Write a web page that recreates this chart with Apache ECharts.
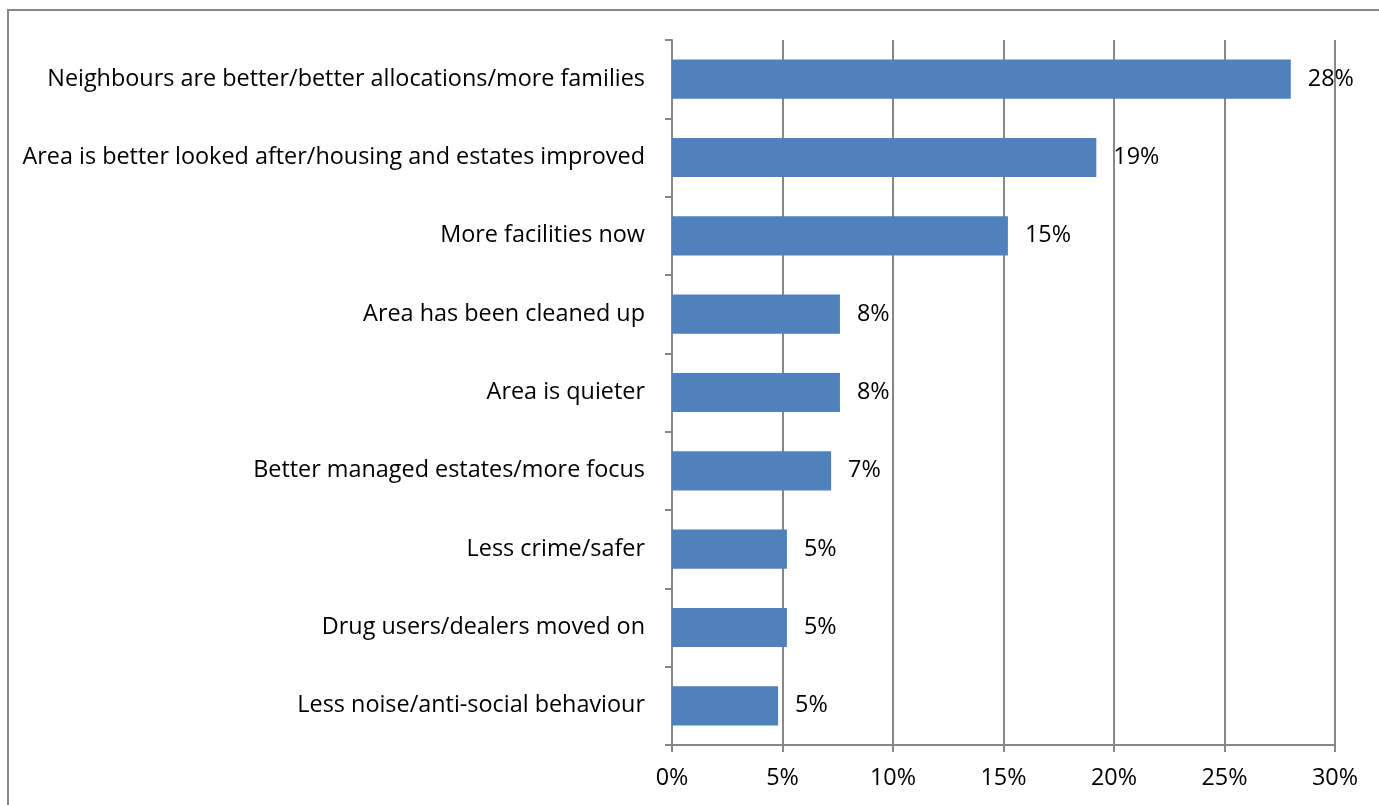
<!DOCTYPE html>
<html>
<head>
<meta charset="utf-8">
<script src="https://cdn.jsdelivr.net/npm/echarts@6/dist/echarts.min.js"></script>
<style>
  html, body { margin: 0; padding: 0; background: #fff; }
  #chart { width: 1379px; height: 805px; }
</style>
</head>
<body>
<div id="chart"></div>
<script>
// Reasons given for the area getting better (share of responses, %)
const categories = [
  'Neighbours are better/better allocations/more families',
  'Area is better looked after/housing and estates improved',
  'More facilities now',
  'Area has been cleaned up',
  'Area is quieter',
  'Better managed estates/more focus',
  'Less crime/safer',
  'Drug users/dealers moved on',
  'Less noise/anti-social behaviour'
];
const shares = [28.0, 19.2, 15.2, 7.6, 7.6, 7.2, 5.2, 5.2, 4.8];
const xTicks = [0, 5, 10, 15, 20, 25, 30];

const FONT = '"Open Sans", "Noto Sans", sans-serif';
const FS = 23.4;
const chart = echarts.init(document.getElementById('chart'), null, { renderer: 'canvas' });

chart.setOption({
  animation: false,
  backgroundColor: '#ffffff',
  graphic: [{
    type: 'rect',
    shape: { x: 8, y: 10, width: 1420, height: 900 },
    style: { fill: 'none', stroke: '#878787', lineWidth: 2 },
    silent: true
  }],
  grid: { left: 672, right: 44, top: 40, bottom: 60, containLabel: false },
  xAxis: {
    type: 'value',
    min: xTicks[0],
    max: xTicks[xTicks.length - 1],
    interval: xTicks[1] - xTicks[0],
    axisLine: { show: true, lineStyle: { color: '#878787', width: 2 } },
    axisTick: { show: true, length: 7, lineStyle: { color: '#878787', width: 2 } },
    splitLine: { show: true, lineStyle: { color: '#878787', width: 2 } },
    axisLabel: {
      color: '#000', fontFamily: FONT, fontSize: FS, margin: 22,
      formatter: v => v + '%'
    }
  },
  yAxis: {
    type: 'category',
    inverse: true,
    data: categories,
    axisLine: { show: true, lineStyle: { color: '#878787', width: 2 } },
    axisTick: { show: true, length: 7, lineStyle: { color: '#878787', width: 2 } },
    axisLabel: {
      color: '#000', fontFamily: FONT, fontSize: FS, margin: 27,
      padding: [5, 0, 0, 0]
    }
  },
  series: [{
    type: 'bar',
    data: shares,
    barWidth: '50%',
    itemStyle: { color: '#4F81BD' },
    label: {
      show: true,
      position: 'right',
      distance: 17,
      color: '#000',
      fontFamily: FONT,
      fontSize: FS,
      padding: [5, 0, 0, 0],
      formatter: p => Math.round(p.value) + '%'
    }
  }]
});
</script>
</body>
</html>
